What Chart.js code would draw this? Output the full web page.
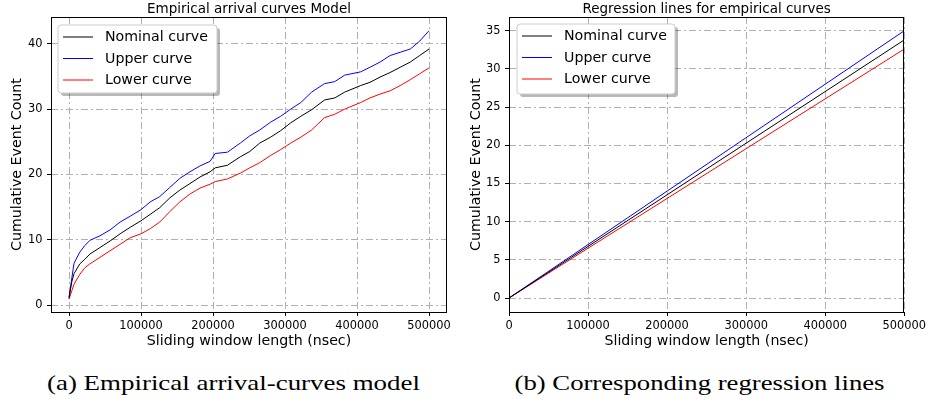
<!DOCTYPE html>
<html><head><meta charset="utf-8">
<script src="https://cdn.jsdelivr.net/npm/chart.js@4.4.1/dist/chart.umd.min.js"></script>
<style>
html,body{margin:0;padding:0;background:#fff;width:929px;height:407px;overflow:hidden;position:relative;}
#c1{position:absolute;left:0;top:0;}
#c2{position:absolute;left:465px;top:0;}
.cap{position:absolute;top:371px;font-family:'Liberation Serif',serif;font-size:21px;line-height:24px;white-space:nowrap;transform-origin:center center;color:#000;}
</style></head><body>
<canvas id="c1" width="465" height="350"></canvas>
<canvas id="c2" width="464" height="350"></canvas>
<div class="cap" id="capA">(a) Empirical arrival-curves model</div>
<div class="cap" id="capB">(b) Corresponding regression lines</div>
<script>
// ---------- data ----------
const windowLengths = [0, 4000, 7000, 15000, 22000, 29000, 43000, 57000, 71000, 85000, 100000, 113000, 126000, 140000, 154000, 168000, 182000, 196000, 203000, 220000, 238000, 251000, 265000, 280000, 294000, 308000, 322000, 337000, 355000, 369000, 383000, 405000, 418000, 432000, 446000, 460000, 474000, 487000, 500000];
const nominalCurve = [1.2, 3.6, 4.8, 6.3, 7.0, 7.8, 8.8, 9.8, 10.9, 11.9, 12.9, 13.9, 14.9, 16.4, 17.6, 18.6, 19.6, 20.4, 21.0, 21.4, 22.7, 23.5, 24.8, 25.7, 26.7, 27.9, 28.9, 29.9, 31.4, 31.7, 32.6, 33.6, 34.1, 34.9, 35.6, 36.4, 37.2, 38.2, 39.2];
const upperCurve = [1.0, 4.2, 6.4, 8.1, 9.1, 9.9, 10.6, 11.5, 12.7, 13.6, 14.6, 15.8, 16.6, 18.0, 19.4, 20.4, 21.3, 22.0, 23.2, 23.4, 24.8, 25.9, 26.8, 28.0, 28.9, 30.0, 31.0, 32.6, 33.9, 34.2, 35.2, 35.7, 36.4, 37.2, 38.2, 38.7, 39.2, 40.4, 42.0];
const lowerCurve = [0.9, 2.2, 3.2, 4.7, 5.7, 6.3, 7.3, 8.3, 9.3, 10.3, 10.9, 11.7, 12.7, 14.3, 15.8, 17.0, 17.9, 18.5, 18.9, 19.3, 20.2, 21.0, 21.8, 22.9, 23.8, 24.8, 25.7, 26.8, 28.7, 29.2, 30.0, 31.0, 31.7, 32.3, 32.8, 33.6, 34.5, 35.4, 36.3];

const regressionX = [0, 500000];
const regressionNominal = [0, 33.8];
const regressionUpper = [0, 35.0];
const regressionLower = [0, 32.6];

const seriesLabels = ['Nominal curve', 'Upper curve', 'Lower curve'];
const xTicks = [0, 100000, 200000, 300000, 400000, 500000];
const yTicksLeft = [0, 10, 20, 30, 40];
const yTicksRight = [0, 5, 10, 15, 20, 25, 30, 35];
const titles = ['Empirical arrival curves Model', 'Regression lines for empirical curves'];
const xAxisLabel = 'Sliding window length (nsec)';
const yAxisLabel = 'Cumulative Event Count';

// ---------- helpers ----------
const FONT = 'DejaVu Sans';
Chart.defaults.font.family = FONT;
Chart.defaults.color = '#000';
const COLORS = ['#000000', '#0000ff', '#ff0000'];

function pts(xs, ys) { return xs.map((x, i) => ({x: x, y: ys[i]})); }

const decorPlugin = {
  id: 'decor',
  afterDraw(chart, args, o) {
    const ctx = chart.ctx, a = chart.chartArea;
    ctx.save();
    // frame
    ctx.strokeStyle = '#000'; ctx.lineWidth = 1; ctx.setLineDash([]);
    ctx.strokeRect(Math.round(a.left) + 0.5, Math.round(a.top) + 0.5, Math.round(a.right - a.left) - 1, Math.round(a.bottom - a.top));
    // title
    ctx.fillStyle = '#000';
    ctx.font = '13.5px "' + FONT + '"';
    ctx.textAlign = 'center'; ctx.textBaseline = 'alphabetic';
    ctx.fillText(o.title, (a.left + a.right) / 2, 12.5);
    // legend
    const bx = a.left + o.lx, by = a.top + o.ly, bw = o.lw, bh = o.lh, r = 3;
    function rr(x, y, w, h) {
      ctx.beginPath();
      ctx.moveTo(x + r, y); ctx.lineTo(x + w - r, y); ctx.quadraticCurveTo(x + w, y, x + w, y + r);
      ctx.lineTo(x + w, y + h - r); ctx.quadraticCurveTo(x + w, y + h, x + w - r, y + h);
      ctx.lineTo(x + r, y + h); ctx.quadraticCurveTo(x, y + h, x, y + h - r);
      ctx.lineTo(x, y + r); ctx.quadraticCurveTo(x, y, x + r, y); ctx.closePath();
    }
    rr(bx + 3, by + 3, bw, bh); ctx.fillStyle = 'rgba(0,0,0,0.28)'; ctx.fill();
    rr(bx, by, bw, bh); ctx.fillStyle = '#ffffff'; ctx.fill();
    ctx.strokeStyle = '#cccccc'; ctx.lineWidth = 1; ctx.stroke();
    ctx.font = '14.2px "' + FONT + '"'; ctx.textAlign = 'left'; ctx.textBaseline = 'middle';
    chart.data.datasets.forEach((ds, i) => {
      const y = by + 11.5 + i * 21.5;
      ctx.strokeStyle = ds.borderColor; ctx.lineWidth = 1;
      ctx.beginPath(); ctx.moveTo(bx + 5, y + 0.5); ctx.lineTo(bx + 35, y + 0.5); ctx.stroke();
      ctx.fillStyle = '#000';
      ctx.fillText(ds.label, bx + 47, y + 1);
    });
    ctx.restore();
  }
};

function makeChart(id, cfg) {
  const datasets = cfg.series.map((s, i) => ({
    label: seriesLabels[i], data: pts(cfg.xs, s), borderColor: COLORS[i], backgroundColor: COLORS[i],
    borderWidth: 1, pointRadius: 0, showLine: true, tension: 0, fill: false
  }));
  const gridCommon = {color: '#b0b0b0', lineWidth: 1, tickColor: '#000', tickLength: 4, tickWidth: 1, tickBorderDash: []};
  return new Chart(document.getElementById(id), {
    type: 'scatter',
    data: {datasets: datasets},
    options: {
      responsive: false, animation: false, devicePixelRatio: 1,
      layout: {padding: {left: 0, right: cfg.padRight, top: 17, bottom: 0}},
      plugins: {legend: {display: false}, tooltip: {enabled: false}, title: {display: false},
        decor: {title: cfg.title, lx: cfg.lx, ly: cfg.ly, lw: cfg.lw, lh: cfg.lh}},
      scales: {
        x: {
          type: 'linear', min: cfg.xmin, max: cfg.xmax,
          grid: gridCommon, border: {display: false, dash: [7, 3, 2, 3]},
          afterBuildTicks: s => { s.ticks = xTicks.map(v => ({value: v})); },
          afterFit: s => { s.height = 38; },
          ticks: {padding: 3, font: {size: 11.4}, color: '#000', maxRotation: 0, callback: v => String(v)},
          title: {display: true, text: xAxisLabel, font: {size: 14.2}, color: '#000', padding: {top: 0, bottom: 0}}
        },
        y: {
          type: 'linear', min: cfg.ymin, max: cfg.ymax,
          grid: gridCommon, border: {display: false, dash: [7, 3, 2, 3]},
          afterBuildTicks: s => { s.ticks = cfg.yTicks.map(v => ({value: v})); },
          afterFit: s => { s.width = cfg.yw; },
          ticks: {padding: 4.5, font: {size: 11.4}, color: '#000', callback: v => String(v)},
          title: {display: true, text: yAxisLabel, font: {size: 14.2}, color: '#000', padding: {top: cfg.ytp, bottom: 0}}
        }
      }
    },
    plugins: [decorPlugin]
  });
}

makeChart('c1', {
  xs: windowLengths, series: [nominalCurve, upperCurve, lowerCurve],
  xmin: -25000, xmax: 525000, ymin: -1.07, ymax: 44.1, yTicks: yTicksLeft,
  padRight: 18, yw: 51, ytp: 8.5, title: titles[0], lx: 7, ly: 8, lw: 159, lh: 68
});
makeChart('c2', {
  xs: regressionX, series: [regressionNominal, regressionUpper, regressionLower],
  xmin: 0, xmax: 500000, ymin: -1.83, ymax: 36.8, yTicks: yTicksRight,
  padRight: 23, yw: 44, ytp: 2.5, title: titles[1], lx: 8, ly: 7, lw: 158, lh: 70
});

function placeCap(id, cx, target) {
  const el = document.getElementById(id);
  const w = el.getBoundingClientRect().width;
  el.style.left = (cx - w / 2) + 'px';
  el.style.transform = 'scaleX(' + (target / w) + ')';
}
placeCap('capA', 233.5, 373);
placeCap('capB', 700, 370);
</script>
</body></html>
